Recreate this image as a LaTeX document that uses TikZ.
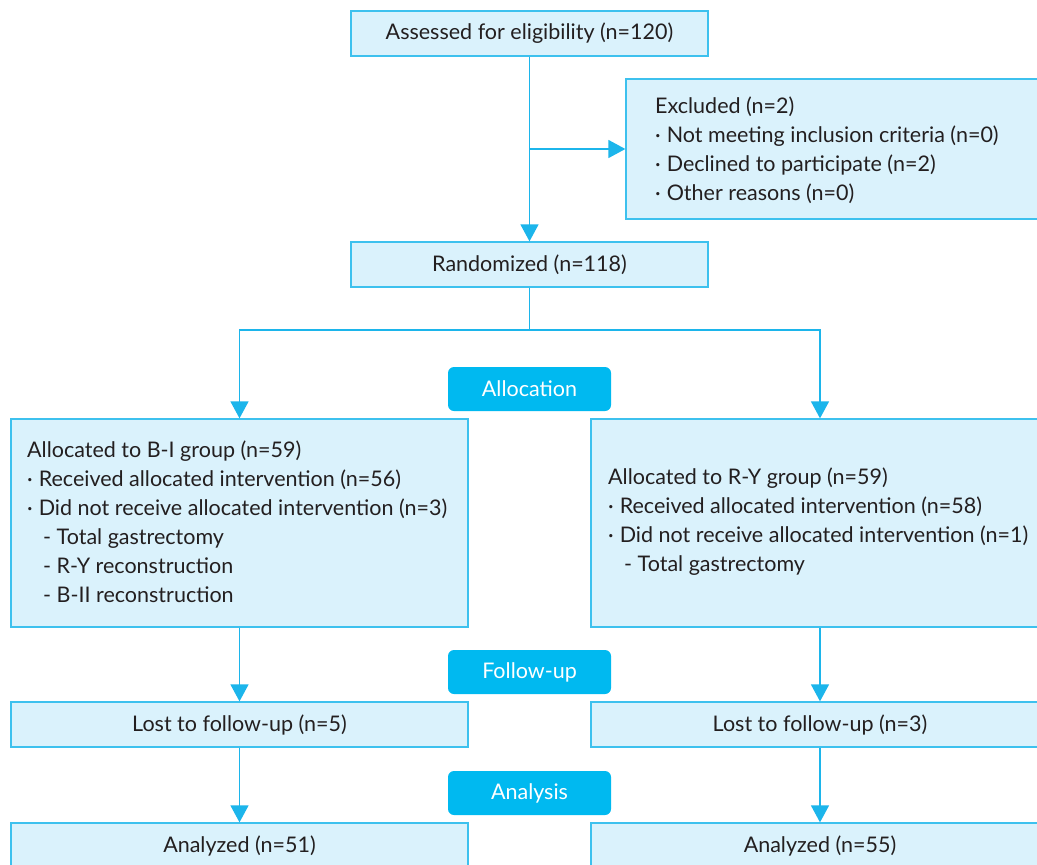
\documentclass[tikz,border=0pt]{standalone}
\usepackage{fontspec}
\setmainfont{Lato}
\usetikzlibrary{arrows.meta}
\definecolor{ln}{HTML}{1CB5EB}
\definecolor{bxfill}{HTML}{DAF2FC}
\definecolor{bxline}{HTML}{3DC1EE}
\definecolor{labfill}{HTML}{00B9F0}
\definecolor{txt}{HTML}{231F20}
\newcommand{\bul}{·\hspace{6pt}}
\begin{document}
\begin{tikzpicture}[x=1pt,y=-1pt,
  box/.style={draw=bxline, fill=bxfill, line width=1.3pt, inner sep=0pt, text=txt,
    font=\fontsize{21.5}{29}\selectfont},
  btext/.style={anchor=west, align=left, inner sep=0pt, text=txt,
    font=\fontsize{21.5}{29}\selectfont},
  stage/.style={fill=labfill, rounded corners=6pt, text=white, inner sep=0pt,
    minimum width=163pt, minimum height=44pt, font=\fontsize{21.5}{29}\selectfont},
  conn/.style={draw=ln, line width=1.4pt},
  arr/.style={conn, -{Triangle[width=18pt,length=17pt]}}
]
\path[use as bounding box, clip] (0,0) rectangle (1037,865);
\fill[white] (0,0) rectangle (1037,865);

% boxes
\node[box, minimum width=357pt, minimum height=45pt] (assess) at (529.5,33.5) {Assessed for eligibility (n=120)};
\node[box, minimum width=423pt, minimum height=140pt] (excl) at (837.5,149) {};
\node[btext] (exclt) at (655,150) {Excluded (n=2)\\
\bul Not meeting inclusion criteria (n=0)\\
\bul Declined to participate (n=2)\\
\bul Other reasons (n=0)};
\node[box, minimum width=357pt, minimum height=45pt] (rand) at (529.5,264.5) {Randomized (n=118)};

\node[stage] (alloc) at (529.5,389) {Allocation};

\node[box, minimum width=457pt, minimum height=208pt] (bi) at (239.5,523) {};
\node[btext] (bit) at (27,522) {Allocated to B-I group (n=59)\\
\bul Received allocated intervention (n=56)\\
\bul Did not receive allocated intervention (n=3)\\
\hspace*{16pt}- Total gastrectomy\\
\hspace*{16pt}- R-Y reconstruction\\
\hspace*{16pt}- B-II reconstruction};

\node[box, minimum width=458pt, minimum height=208pt] (ry) at (820,523) {};
\node[btext] (ryt) at (608,522) {Allocated to R-Y group (n=59)\\
\bul Received allocated intervention (n=58)\\
\bul Did not receive allocated intervention (n=1)\\
\hspace*{16pt}- Total gastrectomy};

\node[stage] (fu) at (529.5,672) {Follow-up};

\node[box, minimum width=457pt, minimum height=45pt] (lostl) at (239.5,724.5) {Lost to follow-up (n=5)};
\node[box, minimum width=458pt, minimum height=45pt] (lostr) at (820,724.5) {Lost to follow-up (n=3)};

\node[stage] (an) at (529.5,793) {Analysis};

\node[box, minimum width=457pt, minimum height=45pt] (anl) at (239.5,845.5) {Analyzed (n=51)};
\node[box, minimum width=458pt, minimum height=45pt] (anr) at (820,845.5) {Analyzed (n=55)};

% connectors
\coordinate (branch) at (assess.south |- excl.west);
\coordinate (split) at (529.5,330);
\draw[arr] (assess.south) -- (rand.north);
\draw[arr] (branch) -- (excl.west);
\draw[conn] (rand.south) -- (split);
\draw[arr] (split) -| (bi.north);
\draw[arr] (split) -| (ry.north);
\draw[arr] (bi.south) -- (lostl.north);
\draw[arr] (ry.south) -- (lostr.north);
\draw[arr] (lostl.south) -- (anl.north);
\draw[arr] (lostr.south) -- (anr.north);
\end{tikzpicture}
\end{document}
